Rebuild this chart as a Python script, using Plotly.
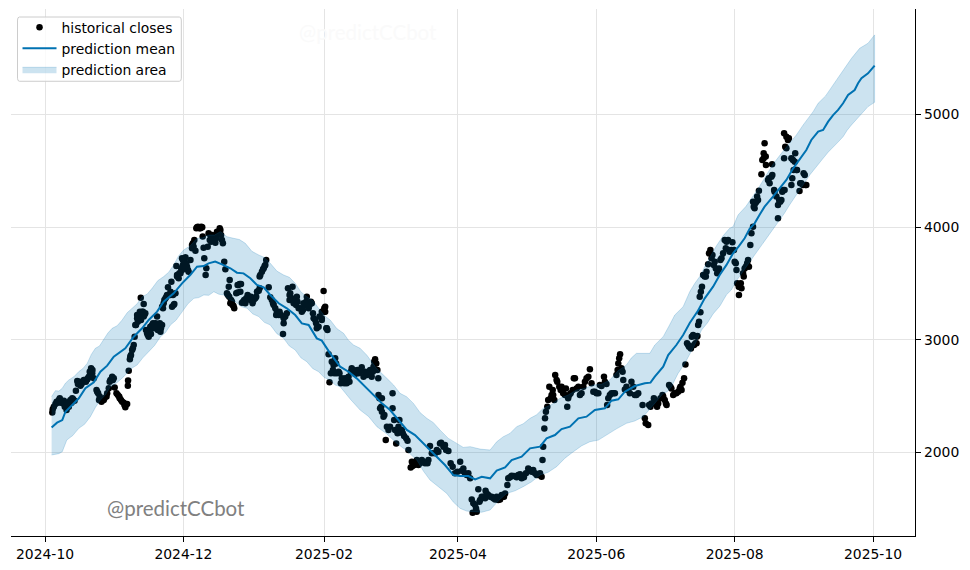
import pandas as pd
import plotly.graph_objects as go

# days counted from 2024-10-01
start = pd.Timestamp("2024-10-01")

close_days = [
    3.2, 3.4, 3.9, 4.6, 5.6, 6.5, 7.6, 8.3, 9.0, 9.5, 10.5, 11.2, 12.0, 13.0, 13.6, 14.2, 14.9, 15.6, 16.7, 17.5,
    18.6, 19.3, 19.7, 20.3, 20.8, 21.5, 22.7, 23.4, 24.1, 24.9, 25.9, 27.1, 28.1, 28.5, 29.6, 30.3, 30.7, 31.5, 32.7, 33.5,
    34.7, 35.4, 36.2, 36.5, 36.6, 36.9, 37.4, 37.9, 38.4, 39.1, 39.5, 40.1, 40.6, 41.3, 42.2, 43.5, 42.8, 43.5, 44.2, 45.0,
    45.7, 46.4, 47.2, 47.9, 48.7, 49.7, 50.9, 51.6, 49.4, 52.0, 52.6, 53.5, 54.2, 55.3, 56.0, 57.0, 57.5, 55.7, 58.2, 58.9,
    60.4, 57.9, 59.7, 60.8, 61.9, 62.6, 63.3, 64.1, 64.8, 65.2, 65.8, 66.3, 67.0, 68.0, 68.9, 69.5, 69.9, 70.2, 71.7, 71.1,
    70.8, 72.1, 72.6, 73.6, 74.3, 75.5, 75.8, 77.0, 77.6, 78.4, 79.0, 79.5, 81.4, 81.0, 80.2, 81.2, 82.0, 82.7, 83.4, 84.3,
    84.9, 86.4, 86.1, 87.3, 88.3, 89.3, 90.5, 91.5, 92.7, 93.4, 94.6, 94.6, 95.6, 96.4, 97.1, 97.5, 98.6, 99.3, 100.5, 101.5,
    101.9, 103.4, 104.9, 105.2, 105.9, 106.6, 107.1, 108.1, 109.1, 107.8, 109.6, 111.0, 111.8, 113.2, 113.9, 115.4, 116.2, 117.6, 118.1, 119.1,
    119.8, 121.0, 122.0, 122.8, 123.5, 124.2, 123.1, 123.5, 122.0, 124.0, 124.5, 125.0, 125.4, 126.0, 127.2, 126.9, 127.9, 128.6, 129.8, 130.4,
    131.3, 132.3, 133.0, 134.2, 134.8, 136.0, 137.2, 138.2, 139.6, 140.4, 142.6, 144.0, 144.8, 145.5, 146.5, 146.9, 147.0, 148.5, 147.7, 148.5,
    149.6, 150.7, 150.2, 152.1, 153.2, 153.2, 153.9, 154.8, 155.4, 156.2, 157.3, 158.3, 159.8, 160.2, 161.2, 161.7, 162.8, 163.9, 165.3, 166.8,
    168.6, 169.7, 171.9, 173.4, 174.6, 176.3, 177.8, 178.8, 180.7, 183.0, 183.7, 185.1, 187.4, 188.5, 188.1, 190.3, 189.6, 191.0, 191.8, 193.2,
    194.2, 195.4, 196.9, 198.4, 199.8, 201.7, 202.8, 203.8, 204.2, 205.7, 207.9, 209.4, 211.1, 213.0, 214.5, 216.0, 217.4, 218.9, 219.3, 219.6,
    220.1, 220.4, 220.8, 221.4, 221.8, 222.3, 223.3, 224.5, 224.9, 225.8, 226.7, 227.7, 229.2, 230.2, 229.6, 231.1, 232.6, 233.6, 234.3, 236.5,
    238.0, 239.5, 240.2, 240.9, 242.4, 243.9, 245.3, 246.4, 247.5, 247.8, 249.0, 250.5, 251.9, 252.7, 253.5, 254.1, 254.9, 255.6, 256.3, 258.5,
    260.0, 261.5, 263.4, 264.4, 264.8, 265.9, 266.3, 267.3, 268.4, 269.2, 270.3, 272.2, 273.2, 274.0, 275.1, 276.1, 276.9, 278.3, 279.8, 280.6,
    281.0, 281.7, 282.3, 283.5, 284.7, 285.7, 286.7, 287.2, 287.9, 288.3, 288.9, 288.6, 289.1, 289.6, 290.8, 291.6, 292.3, 293.3, 294.2, 295.2,
    296.3, 297.1, 298.2, 299.6, 301.1, 303.0, 300.1, 301.8, 304.0, 304.8, 305.9, 305.8, 306.7, 308.0, 308.4, 309.9, 310.9, 311.4, 312.1, 312.8,
    313.6, 314.7, 315.8, 316.2, 317.2, 316.8, 317.8, 319.1, 320.2, 320.5, 321.6, 323.1, 323.1, 324.6, 325.3, 325.8, 325.8, 326.3, 327.5, 329.0,
    329.4, 329.7, 330.7, 331.2, 332.6, 333.4, 334.4, 335.2,
]
close_values = [
    2356, 2383, 2407, 2430, 2442, 2481, 2451, 2460, 2430, 2377, 2407, 2466, 2481, 2460, 2549, 2635, 2614, 2593, 2629, 2644,
    2649, 2673, 2717, 2747, 2703, 2658, 2555, 2525, 2496, 2451, 2466, 2496, 2570, 2629, 2673, 2658, 2578, 2525, 2496, 2466,
    2442, 2401, 2430, 2593, 2638, 2726, 2827, 2865, 2910, 2954, 3028, 3132, 3191, 3220, 3374, 3318, 3250, 3206, 3235, 3058,
    3028, 3117, 3132, 3102, 3146, 3087, 3072, 3132, 3206, 3280, 3354, 3383, 3466, 3398, 3294, 3318, 3413, 3516, 3575, 3546,
    3620, 3655, 3590, 3709, 3732, 3649, 3605, 3709, 3812, 3856, 3886, 3791, 3998, 3990, 4004, 3916, 3818, 3723, 3827, 3635,
    3575, 3945, 3886, 3930, 3886, 3901, 3960, 3990, 3930, 3856, 3694, 3626, 3531, 3472, 3413, 3383, 3354, 3309, 3280, 3413,
    3487, 3496, 3427, 3339, 3324, 3398, 3354, 3324, 3368, 3427, 3457, 3561, 3605, 3635, 3664, 3709, 3466, 3377, 3324, 3280,
    3220, 3250, 3052, 3146, 3206, 3235, 3457, 3413, 3472, 3354, 3324, 3383, 3280, 3250, 3324, 3383, 3280, 3324, 3235, 3176,
    3102, 3206, 3250, 3433, 3294, 3102, 3280, 3250, 3191, 3102, 3087, 2871, 2623, 2703, 2777, 2732, 2836, 2703, 2703, 2614,
    2638, 2658, 2614, 2629, 2717, 2732, 2717, 2703, 2756, 2673, 2717, 2673, 2762, 2827, 2732, 2658, 2510, 2481, 2392, 2362,
    2333, 2229, 2111, 2229, 2525, 2392, 2288, 2081, 2170, 2288, 2200, 2146, 2105, 2022, 1868, 1919, 1889, 1933, 1904, 1919,
    1904, 2058, 1993, 2007, 2087, 2066, 2013, 1904, 1815, 1919, 1839, 1815, 1771, 1466, 1584, 1475, 1534, 1673, 1578, 1608,
    1661, 1623, 1608, 1584, 1578, 1608, 1637, 1711, 1771, 1794, 1780, 1806, 1780, 1859, 1830, 1815, 1800, 1785, 1933, 2052,
    2214, 2303, 2362, 2407, 2466, 2584, 2510, 2466, 2688, 2629, 2584, 2584, 2510, 2407, 2569, 2510, 2555, 2658, 2569, 2525,
    2629, 2673, 2738, 2614, 2540, 2525, 2590, 2673, 2608, 2421, 2510, 2525, 2688, 2791, 2871, 2747, 2643, 2560, 2584, 2629,
    2510, 2525, 2422, 2303, 2259, 2244, 2422, 2436, 2481, 2436, 2436, 2510, 2466, 2422, 2599, 2569, 2510, 2525, 2569, 2555,
    2620, 2658, 2782, 2954, 2924, 3043, 2969, 3028, 3132, 3161, 3244, 3383, 3427, 3472, 3561, 3605, 3670, 3797, 3753, 3694,
    3590, 3634, 3723, 3886, 3886, 3865, 3812, 3782, 3694, 3620, 3398, 3472, 3501, 3561, 3634, 3708, 3842, 3945, 4004, 4167,
    4226, 4324, 4469, 4596, 4744, 4655, 4552, 4433, 4448, 4558, 4315, 4078, 4197, 4241, 4330, 4611, 4833, 4714, 4774, 4374,
    4433, 4596, 4655, 4507, 4321, 4389, 4478, 4374,
]

# second pass over the dense clusters
cluster_days = [
    5.1, 6.1, 7.1, 8.0, 8.7, 9.8, 10.8, 11.7, 12.4, 14.5, 15.3, 16.1, 17.1, 18.0, 18.9, 20.0, 20.9, 20.0, 23.0, 23.8,
    25.2, 26.2, 27.4, 28.8, 29.9, 32.1, 32.9, 34.0, 35.0, 37.6, 38.7, 40.6, 41.8, 42.3, 43.2, 43.8, 40.9, 39.8, 44.5, 45.3,
    46.2, 46.7, 47.6, 48.2, 49.1, 50.1, 50.6, 51.1, 53.1, 53.8, 54.5, 55.3, 56.4, 56.7, 52.3, 51.6, 58.2, 59.2, 60.0, 60.8,
    61.4, 62.3, 63.0, 61.1, 60.4, 66.7, 67.4, 68.5, 69.3, 65.5, 64.8, 72.9, 73.2, 73.9, 74.6, 75.1, 76.5, 77.3, 78.0, 80.6,
    81.7, 82.4, 83.1, 85.2, 85.8, 84.9, 86.8, 87.8, 88.7, 89.9, 90.8, 92.0, 93.1, 94.2, 94.9, 96.1, 96.8, 100.0, 100.8, 102.2,
    103.0, 104.0, 105.2, 107.8, 108.8, 110.0, 110.7, 111.3, 112.5, 113.7, 114.7, 115.1, 116.6, 117.2, 118.4, 119.5, 120.6, 122.0, 123.1, 126.4,
    127.5, 128.3, 129.4, 130.8, 131.9, 132.7, 133.8, 135.2, 136.7, 137.7, 138.9, 141.1, 141.9, 143.3, 144.5, 146.0, 145.1, 147.4, 148.2, 149.2,
    151.4, 154.3, 155.8, 156.5, 157.7, 159.2, 162.0, 163.4, 164.6, 166.1, 167.5, 169.0, 170.5, 172.7, 174.1, 175.6, 176.8, 179.7, 181.8, 184.4,
    185.9, 186.6, 188.8, 190.0, 191.5, 192.5, 194.0, 194.7, 196.2, 197.6, 199.1, 200.6, 201.3, 202.3, 205.0, 206.7, 208.6, 210.1, 212.0, 213.8,
    215.2, 216.7, 218.2, 222.9, 223.8, 224.0, 225.5, 227.3, 228.4, 230.6, 231.7, 233.1, 235.1, 235.8, 237.3, 238.7, 241.7, 243.1, 244.6, 246.8,
    248.3, 249.7, 251.2, 252.4, 253.1, 254.6, 257.1, 257.8, 259.3, 260.7, 266.9, 268.1, 268.8, 269.8, 271.3, 272.5, 273.7, 275.7, 277.6, 279.1,
    280.1, 283.0, 283.9, 285.1, 286.1, 287.2, 287.6, 290.1, 291.3, 292.7, 293.8, 294.8, 295.7, 296.7, 297.7, 298.9, 300.4, 301.5, 302.6, 303.7,
    304.5, 305.1, 306.2, 307.0, 307.7, 308.9, 309.5, 310.3, 312.4, 313.1, 313.9, 312.1, 314.3, 316.8, 317.7, 318.7, 319.4, 320.6, 321.4, 322.4,
    323.6, 324.1, 325.0, 326.0, 326.8, 327.9, 326.8, 330.0, 329.0, 330.5, 331.5, 332.9, 334.1, 334.9, 335.6,
]
cluster_values = [
    2451, 2466, 2442, 2436, 2407, 2430, 2451, 2442, 2472, 2608, 2629, 2608, 2644, 2629, 2658, 2673, 2732, 2717, 2540, 2466,
    2472, 2481, 2525, 2644, 2644, 2510, 2481, 2451, 2422, 2851, 2925, 3220, 3250, 3176, 3250, 3220, 3161, 3132, 3087, 3043,
    3087, 3052, 3146, 3117, 3140, 3117, 3146, 3102, 3368, 3398, 3398, 3427, 3398, 3309, 3324, 3294, 3561, 3590, 3635, 3664,
    3694, 3679, 3620, 3709, 3723, 3990, 4004, 3990, 3998, 3827, 3842, 3930, 3871, 3901, 3922, 3862, 3945, 3975, 3886, 3398,
    3324, 3339, 3300, 3487, 3496, 3419, 3330, 3354, 3368, 3383, 3383, 3354, 3383, 3436, 3575, 3626, 3655, 3354, 3309, 3250,
    3220, 3220, 3191, 3398, 3368, 3339, 3309, 3339, 3280, 3265, 3309, 3339, 3309, 3339, 3191, 3146, 3117, 3176, 3250, 2806,
    2703, 2791, 2717, 2658, 2614, 2643, 2673, 2747, 2697, 2732, 2717, 2717, 2688, 2732, 2717, 2791, 2806, 2481, 2407, 2318,
    2200, 2200, 2229, 2200, 2170, 2126, 1880, 1913, 1889, 1933, 1904, 1933, 1993, 2022, 2081, 2052, 2022, 1874, 1830, 1859,
    1800, 1815, 1549, 1504, 1564, 1608, 1593, 1637, 1608, 1593, 1608, 1584, 1623, 1608, 1780, 1791, 1800, 1771, 1815, 1845,
    1845, 1800, 1815, 2481, 2555, 2510, 2643, 2555, 2525, 2481, 2525, 2658, 2584, 2510, 2584, 2658, 2540, 2525, 2599, 2628,
    2481, 2525, 2525, 2732, 2836, 2717, 2555, 2525, 2584, 2510, 2407, 2436, 2466, 2407, 2481, 2496, 2436, 2584, 2525, 2540,
    2584, 2969, 2939, 3028, 2954, 2969, 3034, 3575, 3561, 3768, 3723, 3664, 3634, 3620, 3708, 3768, 3871, 3797, 3797, 3797,
    3679, 3501, 3472, 3457, 3590, 3649, 3679, 3649, 4182, 4211, 4271, 4226, 4241, 4611, 4626, 4418, 4389, 4463, 4330, 4271,
    4241, 4226, 4315, 4330, 4803, 4788, 4700, 4507, 4611, 4581, 4507, 4389, 4374, 4463, 4374,
]

mean_days = [
    2.9, 5.3, 7.6, 9.0, 12.0, 14.9, 17.8, 21.5, 24.4, 27.4, 30.3, 35.4, 39.1, 42.8, 45.7, 49.4, 52.3, 56.7, 60.4, 64.0,
    67.0, 69.9, 72.1, 75.0, 78.0, 81.7, 84.6, 87.5, 90.5, 93.4, 96.4, 99.3, 103.0, 106.6, 110.3, 113.2, 116.2, 119.8, 122.0, 125.7,
    130.1, 133.8, 137.4, 141.1, 144.8, 148.5, 152.1, 155.8, 159.5, 163.1, 166.8, 171.2, 176.3, 180.0, 183.0, 186.6, 189.6, 192.5, 196.2, 199.1,
    202.8, 205.7, 210.1, 213.8, 218.2, 221.1, 224.8, 227.7, 231.4, 235.1, 238.7, 242.4, 246.8, 249.7, 252.7, 255.6, 260.0, 264.4, 266.9, 268.8,
    272.5, 274.7, 278.3, 281.3, 284.2, 287.9, 290.8, 294.5, 297.4, 300.4, 303.3, 305.8, 308.4, 310.6, 312.8, 315.0, 317.2, 320.9, 323.8, 326.8,
    329.8, 333.4, 335.6, 337.8, 340.8, 343.0, 345.2, 347.4, 349.6, 351.8, 354.0, 356.9, 358.4, 359.9, 362.8, 365.7,
]
mean_values = [
    2223, 2265, 2288, 2362, 2422, 2481, 2570, 2623, 2717, 2771, 2851, 2925, 3028, 3102, 3176, 3250, 3339, 3413, 3501, 3575,
    3649, 3655, 3679, 3694, 3670, 3635, 3596, 3590, 3546, 3487, 3466, 3398, 3324, 3280, 3220, 3146, 3132, 3013, 2993, 2880,
    2762, 2717, 2658, 2584, 2510, 2436, 2377, 2288, 2200, 2155, 2081, 1993, 1889, 1800, 1791, 1791, 1762, 1785, 1771, 1839,
    1868, 1933, 1963, 2037, 2052, 2126, 2155, 2208, 2229, 2303, 2318, 2377, 2392, 2460, 2472, 2540, 2590, 2614, 2620, 2673,
    2762, 2865, 2954, 3043, 3150, 3260, 3368, 3472, 3575, 3665, 3768, 3830, 3901, 3985, 4034, 4110, 4182, 4271, 4345, 4419,
    4522, 4626, 4685, 4774, 4848, 4862, 4936, 4995, 5040, 5099, 5173, 5217, 5277, 5321, 5365, 5433,
]

upper_days = [
    2.9, 3.8, 4.6, 6.1, 7.6, 9.0, 10.5, 12.7, 14.9, 16.7,
    18.6, 20.4, 22.2, 24.0, 25.9, 27.7, 29.6, 31.8, 34.0, 36.2,
    38.4, 40.6, 42.8, 45.0, 47.2, 49.7, 52.3, 54.5, 56.7, 58.9,
    61.1, 64.0, 67.0, 69.5, 72.1, 74.7, 77.3, 80.2, 83.1, 85.7,
    88.3, 91.2, 94.2, 96.7, 99.3, 102.2, 105.2, 107.7, 110.3, 112.8,
    115.4, 118.0, 120.6, 123.1, 125.7, 128.6, 131.6, 133.8, 136.0, 138.9,
    141.8, 146.2, 150.7, 153.6, 156.5, 159.4, 162.4, 165.3, 168.3, 171.2,
    174.1, 177.8, 181.5, 184.4, 187.4, 191.8, 196.2, 199.1, 202.0, 205.0,
    207.9, 210.8, 213.8, 216.7, 219.6, 223.3, 227.0, 230.6, 234.3, 238.0,
    241.7, 245.3, 249.0, 252.6, 256.3, 258.5, 260.7, 263.7, 266.6, 268.8,
    272.5, 275.0, 277.6, 281.3, 284.2, 286.4, 288.6, 291.6, 296.0, 299.0,
    301.8, 303.3, 305.5, 309.0, 311.4, 314.6, 318.0, 321.0, 324.6, 328.0,
    331.2, 334.2, 338.6, 340.8, 344.1, 347.4, 351.8, 355.5, 359.1, 362.8,
    365.7,
]
upper_values = [
    2496, 2530, 2549, 2545, 2570, 2615, 2644, 2672, 2718, 2745,
    2791, 2870, 2925, 2945, 2999, 3060, 3102, 3125, 3176, 3240,
    3280, 3320, 3383, 3405, 3457, 3525, 3561, 3600, 3664, 3745,
    3797, 3835, 3901, 3905, 3930, 3930, 3960, 3915, 3901, 3890,
    3856, 3785, 3753, 3730, 3679, 3610, 3575, 3555, 3501, 3425,
    3383, 3350, 3280, 3215, 3176, 3100, 3058, 2995, 2954, 2925,
    2865, 2745, 2658, 2600, 2525, 2495, 2436, 2355, 2303, 2265,
    2200, 2125, 2081, 2045, 2052, 2030, 2022, 2095, 2140, 2170,
    2229, 2255, 2303, 2335, 2392, 2425, 2481, 2510, 2555, 2570,
    2599, 2605, 2644, 2725, 2777, 2840, 2880, 2880, 2880, 2954,
    3028, 3120, 3220, 3294, 3427, 3500, 3561, 3680, 3835, 3925,
    3990, 4004, 4108, 4185, 4256, 4350, 4463, 4560, 4655, 4740,
    4818, 4907, 5025, 5099, 5165, 5262, 5395, 5498, 5587, 5632,
    5706,
]
lower_days = [
    2.9, 4.6, 6.1, 7.6, 8.6, 9.6, 12.2, 14.9, 17.4, 20.0,
    22.2, 24.4, 26.6, 28.8, 31.7, 34.7, 37.6, 40.6, 43.1, 45.7,
    48.3, 50.9, 53.1, 55.3, 57.8, 60.4, 63.0, 65.6, 67.8, 70.0,
    72.2, 74.4, 76.6, 78.8, 81.3, 83.9, 86.5, 89.1, 91.6, 94.2,
    96.7, 99.3, 102.2, 105.2, 107.7, 110.3, 112.8, 115.4, 118.0, 120.6,
    123.1, 125.7, 127.9, 130.1, 134.5, 138.9, 142.6, 146.3, 150.7, 155.1,
    159.5, 163.9, 166.8, 169.7, 173.4, 177.1, 180.0, 183.0, 185.9, 188.8,
    192.5, 196.2, 199.8, 203.5, 207.2, 210.8, 214.5, 218.2, 221.8, 225.5,
    229.2, 232.9, 236.6, 240.2, 243.9, 247.5, 251.9, 256.3, 260.0, 263.7,
    268.1, 272.5, 274.3, 276.1, 279.0, 282.0, 284.2, 286.4, 289.4, 292.0,
    294.5, 297.5, 300.4, 302.5, 305.0, 307.0, 309.2, 311.8, 314.3, 316.8,
    319.4, 321.6, 323.8, 326.0, 328.2, 330.4, 332.6, 335.0, 337.1, 340.0,
    343.0, 345.2, 347.4, 349.6, 351.8, 353.6, 355.5, 357.3, 359.1, 361.0,
    362.8, 365.7,
]
lower_values = [
    1978, 1987, 1990, 2007, 2065, 2111, 2150, 2215, 2250, 2318,
    2400, 2466, 2510, 2584, 2620, 2673, 2740, 2777, 2840, 2895,
    2950, 3028, 3065, 3132, 3175, 3250, 3320, 3368, 3375, 3398,
    3395, 3427, 3405, 3398, 3355, 3339, 3295, 3280, 3230, 3206,
    3155, 3132, 3055, 3013, 2945, 2910, 2840, 2806, 2745, 2717,
    2665, 2643, 2600, 2584, 2475, 2377, 2320, 2229, 2165, 2081,
    2015, 1933, 1835, 1756, 1700, 1637, 1560, 1504, 1480, 1475,
    1470, 1490, 1570, 1637, 1660, 1697, 1740, 1800, 1825, 1874,
    1950, 2007, 2060, 2096, 2110, 2155, 2210, 2259, 2280, 2318,
    2420, 2525, 2540, 2584, 2700, 2791, 2870, 2954, 3087, 3150,
    3230, 3300, 3400, 3442, 3530, 3590, 3649, 3725, 3797, 3870,
    3945, 4005, 4064, 4125, 4197, 4265, 4330, 4400, 4463, 4540,
    4611, 4665, 4714, 4755, 4803, 4860, 4907, 4950, 4996, 5030,
    5070, 5108,
]

x_ticks = ["2024-10-01", "2024-12-01", "2025-02-01", "2025-04-01", "2025-06-01", "2025-08-01", "2025-10-01"]
x_labels = ["2024-10", "2024-12", "2025-02", "2025-04", "2025-06", "2025-08", "2025-10"]
y_ticks = [2000, 3000, 4000, 5000]


def to_dates(days):
    return start + pd.to_timedelta(days, unit="D")


fig = go.Figure()
band_x = list(to_dates(upper_days)) + list(to_dates(lower_days))[::-1]
band_y = upper_values + lower_values[::-1]

fig.add_trace(go.Scatter(x=to_dates(close_days + cluster_days), y=close_values + cluster_values, mode="markers",
                         name="historical closes", marker=dict(color="black", size=6.5)))
fig.add_trace(go.Scatter(x=to_dates(mean_days), y=mean_values, mode="lines", name="prediction mean",
                         line=dict(color="#0072B2", width=2)))
fig.add_trace(go.Scatter(x=band_x, y=band_y, mode="lines", name="prediction area", fill="toself",
                         fillcolor="rgba(0,114,178,0.2)", line=dict(color="rgba(0,114,178,0.2)", width=1)))

fig.add_annotation(text="@predictCCbot", x=0.183, y=0.053, xref="paper", yref="paper", showarrow=False,
                   xanchor="center", yanchor="middle", font=dict(family="Lato", size=20.5, color="#808080"))
fig.add_annotation(text="@predictCCbot", x=0.395, y=0.956, xref="paper", yref="paper", showarrow=False,
                   xanchor="center", yanchor="middle", font=dict(family="Lato", size=20.5, color="#fafafa"))

# legend frame, plotly has no rounded legend box
fig.add_shape(type="path", xref="paper", yref="paper", layer="above",
              path="M 0.0094 0.9848 Q 0.0072 0.9848 0.0072 0.9790 L 0.0072 0.8687 Q 0.0072 0.8629 0.0094 0.8629"
                   " L 0.1862 0.8629 Q 0.1884 0.8629 0.1884 0.8687 L 0.1884 0.9790 Q 0.1884 0.9848 0.1862 0.9848 Z",
              fillcolor="rgba(255,255,255,0.8)", line=dict(color="#cccccc", width=1))

fig.update_layout(
    width=970, height=570,
    margin=dict(l=10.5, r=54.5, t=9, b=34),
    plot_bgcolor="white", paper_bgcolor="white",
    font=dict(family="DejaVu Sans", size=13.9, color="black"),
    legend=dict(x=0.0072, y=0.995, xanchor="left", yanchor="top", bgcolor="rgba(0,0,0,0)",
                itemwidth=34, tracegroupgap=0),
)
fig.update_xaxes(range=["2024-09-16", "2025-10-19 12:00"], tickvals=x_ticks, ticktext=x_labels,
                 showgrid=True, gridcolor="#e4e4e4", showline=True, linecolor="black", linewidth=1.2,
                 ticks="outside", ticklen=5, tickcolor="black", zeroline=False)
fig.update_yaxes(range=[1259, 5936], tickvals=y_ticks, side="right",
                 showgrid=True, gridcolor="#e4e4e4", showline=True, linecolor="black", linewidth=1.2,
                 ticks="outside", ticklen=5, tickcolor="black", zeroline=False)

# the page has a default 8px body margin
fig.write_html("out.html", config=dict(displayModeBar=False), post_script="document.body.style.margin = '0';")
